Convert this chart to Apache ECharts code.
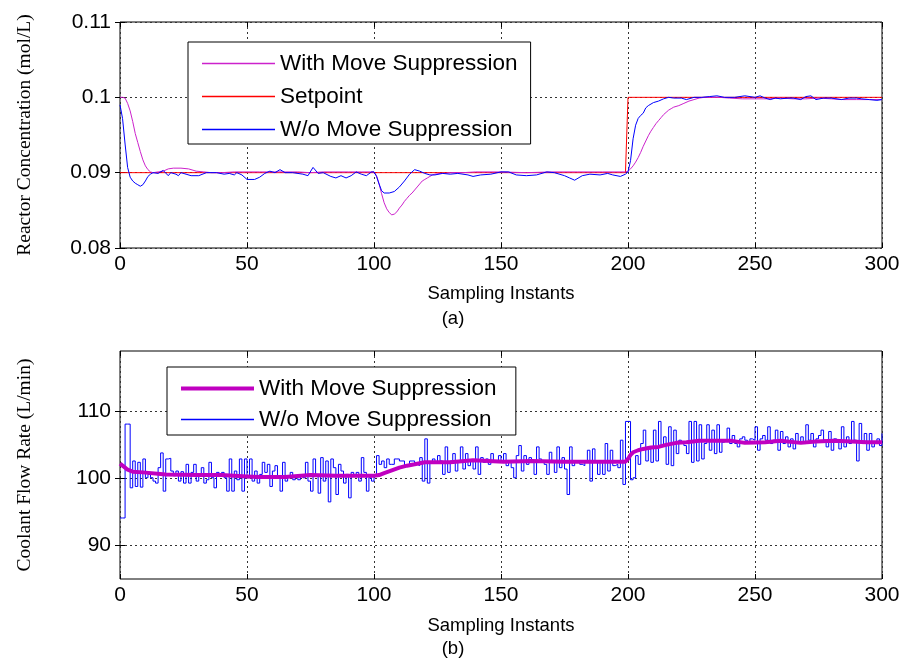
<!DOCTYPE html>
<html><head><meta charset="utf-8">
<script src="https://cdn.jsdelivr.net/npm/echarts@6/dist/echarts.min.js"></script>
<style>html,body{margin:0;padding:0;background:#fff}#c{width:906px;height:660px}</style>
</head><body><div id="c"></div>
<script>
// ---------- data ----------
const xTicks = [0, 50, 100, 150, 200, 250, 300];
const botYTicks = [90, 100, 110];

// (a) setpoint
const spT = [0, 199, 200, 300];
const spV = [0.09, 0.09, 0.1, 0.1];

// (a) with move suppression
const maT = [0,1,2,3,4,5,6,7,8,9,10,11,12,13,15,17,19,21,24,27,30,33,36,40,45,50,55,60,65,70,75,80,85,90,95,100,101,102,103,104,105,106,107,108,109,110,111,112,113,114,115,116,117,118,119,120,121,122,123,124,126,128,130,135,140,150,160,170,180,190,199,200,201,202,203,204,205,206,207,208,209,210,211,212,213,214,215,216,217,218,220,222,224,226,228,230,233,236,240,245,250,255,260,265,270,275,280,285,290,295,300];
const maV = [0.1,0.1,0.0999,0.0992,0.0982,0.0968,0.0952,0.094,0.0928,0.0917,0.0909,0.0904,0.0901,0.09,0.0901,0.0902,0.0905,0.0906,0.0906,0.0905,0.0902,0.0901,0.09,0.09,0.0901,0.0901,0.0901,0.0901,0.0901,0.0901,0.09,0.0901,0.0901,0.0901,0.0901,0.0901,0.0896,0.0885,0.0872,0.086,0.0852,0.0847,0.0844,0.0845,0.0848,0.0853,0.0857,0.0862,0.0866,0.087,0.0873,0.0877,0.0881,0.0885,0.0889,0.0891,0.0893,0.0895,0.0897,0.0898,0.0899,0.0899,0.09,0.09,0.0901,0.0901,0.09,0.0901,0.0901,0.0901,0.0901,0.0902,0.0905,0.0909,0.0914,0.092,0.0927,0.0935,0.0942,0.0949,0.0955,0.096,0.0965,0.0969,0.0973,0.0977,0.098,0.0983,0.0985,0.0987,0.0989,0.0992,0.0995,0.0997,0.0999,0.1,0.1,0.1,0.0999,0.0998,0.0998,0.0998,0.0999,0.0998,0.0998,0.0999,0.0998,0.0997,0.0997,0.0997,0.0997];

// (a) without move suppression
const baT = [0,1,2,3,4,5,6,7,8,9,10,11,12,13,15,17,19,20,22,23,24,26,28,31,34,38,41,43,45,46,48,50,53,55,57,59,61,63,65,68,72,74,76,78,80,83,85,87,89,91,93,95,97,99,100,101,102,103,104,106,108,110,112,114,116,118,120,122,124,127,130,133,137,139,142,146,150,153,156,160,164,168,171,175,177,179,182,185,189,192,194,197,199,200,201,202,203,204,205,206,207,208,210,212,214,216,218,221,223,226,229,232,235,238,242,246,250,252,254,256,258,260,263,265,268,270,272,274,277,280,284,287,290,292,295,298,300];
const baV = [0.099,0.0972,0.0938,0.0907,0.0894,0.0889,0.0886,0.0884,0.0882,0.0884,0.0889,0.0895,0.0898,0.09,0.0899,0.0903,0.0896,0.09,0.0898,0.0896,0.09,0.0898,0.0896,0.0896,0.09,0.09,0.0898,0.0899,0.0897,0.09,0.0897,0.0891,0.0891,0.0894,0.0899,0.0902,0.09,0.0904,0.09,0.09,0.0898,0.0896,0.0907,0.0899,0.09,0.0895,0.0893,0.0896,0.0893,0.0896,0.0901,0.0898,0.0896,0.0901,0.0901,0.0895,0.0885,0.0876,0.0873,0.0873,0.0875,0.0881,0.0889,0.0898,0.0904,0.0902,0.0899,0.0897,0.0897,0.0899,0.0898,0.0899,0.0897,0.0895,0.0897,0.0898,0.0901,0.0901,0.0897,0.0896,0.0897,0.0901,0.09,0.0896,0.0893,0.089,0.0896,0.0898,0.0897,0.0899,0.0897,0.0895,0.0898,0.0901,0.0916,0.0945,0.0963,0.0972,0.0976,0.0979,0.0986,0.0989,0.0993,0.0995,0.0998,0.1,0.0999,0.0999,0.0997,0.1,0.1,0.1001,0.1002,0.1,0.1,0.1002,0.1,0.1002,0.0999,0.0997,0.0999,0.0998,0.0999,0.0999,0.0997,0.1001,0.1002,0.0997,0.0999,0.0999,0.0997,0.0999,0.0999,0.0998,0.0997,0.0996,0.0997];

// (b) with move suppression
const mbT = [0,2,3,5,9,18,30,40,50,55,65,75,85,92,100,102,104,107,110,113,116,120,130,139,145,151,162,175,188,199,200,201,202,204,206,209,212,215,219,223,228,236,241,246,254,260,268,274,281,288,294,300];
const mbV = [102.2,101.6,101.3,101.0,100.9,100.6,100.5,100.5,100.3,100.2,100.2,100.5,100.4,100.4,100.4,100.5,100.8,101.2,101.6,101.9,102.1,102.4,102.4,102.7,102.6,102.5,102.6,102.5,102.5,102.5,102.9,103.5,103.9,104.2,104.4,104.6,104.7,105.0,105.3,105.4,105.6,105.6,105.6,105.3,105.4,105.6,105.3,105.5,105.6,105.5,105.4,105.4];

// (b) without move suppression, one value per sampling instant 0..300
const bbV = [94.1,94.1,108.1,108.1,
98.6,102.6,98.8,102.4,98.7,102.9,100.1,100.6,100.1,99.6,
99.3,101.6,103.8,98.1,102.9,103.0,101.1,100.4,101.1,99.6,
101.0,99.3,102.1,99.3,100.9,102.1,99.6,100.4,101.6,99.3,
99.8,102.4,100.1,98.6,100.9,100.4,100.9,100.1,98.1,102.9,
98.1,101.1,99.8,102.9,98.1,102.9,100.1,102.9,99.6,101.1,
99.3,100.6,102.4,100.9,102.1,98.8,101.1,101.9,100.4,98.1,
102.4,99.6,100.4,100.9,99.8,100.4,99.8,100.4,100.1,102.4,
99.6,98.1,102.9,100.4,97.8,103.1,99.6,102.6,96.5,102.9,
101.6,97.6,102.1,101.1,99.3,100.6,97.1,100.9,100.4,100.9,
99.6,103.1,100.9,98.1,100.1,99.6,100.4,103.4,102.1,102.6,
101.6,102.9,102.1,102.1,102.9,102.9,102.6,102.6,101.9,101.9,102.6,102.6,102.1,101.9,103.1,
99.6,105.9,99.3,102.4,102.9,102.4,103.4,102.6,100.6,104.7,
100.9,102.6,103.7,101.1,102.6,104.7,101.4,103.7,101.9,102.6,
101.4,104.7,100.6,103.1,102.4,102.9,102.1,103.7,102.4,102.4,
103.4,102.6,
103.7,101.9,102.6,101.6,100.1,103.4,104.9,101.1,103.4,102.1,
103.1,102.4,100.6,104.7,102.9,102.6,102.1,100.6,103.9,102.4,
100.9,104.7,101.6,103.1,101.4,97.6,104.7,101.9,102.4,102.6,
102.1,101.9,102.4,104.2,99.6,104.4,102.4,100.6,102.4,100.6,
105.2,101.1,104.2,101.9,102.1,101.6,105.7,99.1,108.5,108.5,
99.8,100.1,103.4,102.1,105.2,107.2,102.6,104.4,102.4,107.2,
102.6,108.5,104.9,106.2,102.1,107.7,101.9,107.2,103.7,105.7,
105.4,104.9,103.7,108.5,102.4,108.5,102.6,108.0,102.9,105.2,
108.0,104.2,107.2,103.7,108.0,103.9,105.4,105.7,107.5,105.2,
106.4,105.2,104.7,105.9,106.2,105.7,105.2,105.9,105.7,107.7,
104.2,105.9,106.4,105.7,107.7,105.2,105.7,107.2,104.2,107.0,
105.2,106.2,104.7,105.9,104.4,106.7,105.2,106.2,105.2,108.0,
105.7,106.7,104.7,105.9,106.4,107.2,105.7,104.7,107.0,104.2,
105.9,105.7,104.4,107.7,104.7,106.2,105.2,108.5,105.7,102.6,
108.2,105.2,106.7,104.2,106.7,104.7,105.4,105.9,104.9,106.7];
const bbT = bbV.map((v, i) => i);

// ---------- chart ----------
const SANS = 'Liberation Sans, Arial, Helvetica, sans-serif';
const SERIF = 'Liberation Serif, Times New Roman, serif';
const pair = (t, v) => t.map((x, i) => [x, v[i]]);
const dotted = {show: true, lineStyle: {color: '#333', type: [2, 3], width: 1}};
const tick = {show: true, inside: true, length: 5, lineStyle: {color: '#000'}};
const C_MAG = '#cc22cc', C_MAG2 = '#c000c0', C_RED = '#ff0000', C_BLUE = '#0000ff';
const thinIcon = 'path://M0,0H70V1.2H0Z';
const thickIcon = 'path://M0,0H70V4H0Z';
const legItem = (name, icon, color) => ({name, icon, itemStyle: {color, borderWidth: 0, borderColor: color}});

function xAxis(gi, pos, gap) {
  const main = pos === 'bottom';
  return {
    type: 'value', gridIndex: gi, position: pos, min: 0, max: 300, interval: 50,
    axisLine: {show: false}, axisTick: tick,
    axisLabel: {show: main, color: '#000', fontSize: 21, fontFamily: SANS, margin: 6},
    splitLine: main ? dotted : {show: false},
    name: main ? 'Sampling Instants' : '', nameLocation: 'middle', nameGap: gap,
    nameTextStyle: {color: '#000', fontSize: 18.5, fontFamily: SANS}
  };
}

const option = {
  animation: false,
  backgroundColor: '#fff',
  grid: [
    {left: 120, right: 24, top: 22, height: 226, show: true, borderColor: '#000', borderWidth: 1},
    {left: 120, right: 24, top: 351, height: 228, show: true, borderColor: '#000', borderWidth: 1}
  ],
  xAxis: [xAxis(0, 'bottom', 36), xAxis(0, 'top', 0), xAxis(1, 'bottom', 37), xAxis(1, 'top', 0)],
  yAxis: [
    {type: 'value', gridIndex: 0, position: 'left', min: 0.08, max: 0.11, interval: 0.01,
     axisLine: {show: false}, axisTick: tick,
     axisLabel: {color: '#000', fontSize: 21, fontFamily: SANS, margin: 9},
     splitLine: dotted,
     name: 'Reactor Concentration (mol/L)', nameLocation: 'middle', nameGap: 85,
     nameTextStyle: {color: '#000', fontSize: 19.5, fontFamily: SERIF}},
    {type: 'value', gridIndex: 0, position: 'right', min: 0.08, max: 0.11, interval: 0.01,
     axisLine: {show: false}, axisTick: tick, axisLabel: {show: false}, splitLine: {show: false}},
    {type: 'value', gridIndex: 1, position: 'left', min: 85, max: 119,
     axisLine: {show: false}, axisTick: Object.assign({}, tick, {customValues: botYTicks}),
     axisLabel: {color: '#000', fontSize: 21, fontFamily: SANS, margin: 9, customValues: botYTicks},
     splitLine: dotted,
     name: 'Coolant Flow Rate (L/min)', nameLocation: 'middle', nameGap: 85,
     nameTextStyle: {color: '#000', fontSize: 19.5, fontFamily: SERIF}},
    {type: 'value', gridIndex: 1, position: 'right', min: 85, max: 119,
     axisLine: {show: false}, axisTick: Object.assign({}, tick, {customValues: botYTicks}),
     axisLabel: {show: false}, splitLine: {show: false}}
  ],
  legend: [
    {orient: 'vertical', left: 188, top: 42, padding: [10, 13, 3, 14], itemGap: 10,
     itemWidth: 73, itemHeight: 14, backgroundColor: '#fff', borderColor: '#000', borderWidth: 1, z: 20,
     itemStyle: {borderWidth: 0},
     data: [legItem('With Move Suppression', thinIcon, C_MAG),
            legItem('Setpoint', thinIcon, C_RED),
            legItem('W/o Move Suppression', thinIcon, C_BLUE)],
     textStyle: {color: '#000', fontSize: 22.5, fontFamily: SANS}},
    {orient: 'vertical', left: 167, top: 367, padding: [10, 13, 4, 14], itemGap: 8,
     itemWidth: 73, itemHeight: 14, backgroundColor: '#fff', borderColor: '#000', borderWidth: 1, z: 20,
     itemStyle: {borderWidth: 0},
     data: [legItem('With Move Suppression ', thickIcon, C_MAG2),
            legItem('W/o Move Suppression ', thinIcon, C_BLUE)],
     textStyle: {color: '#000', fontSize: 22.5, fontFamily: SANS}}
  ],
  graphic: [
    {type: 'text', left: 'center', top: 309, style: {text: '(a)', fill: '#000', font: '18.5px ' + SANS}},
    {type: 'text', left: 'center', top: 639, style: {text: '(b)', fill: '#000', font: '18.5px ' + SANS}}
  ],
  series: [
    {name: 'Setpoint', type: 'line', xAxisIndex: 0, yAxisIndex: 0, data: pair(spT, spV),
     symbol: 'none', lineStyle: {color: C_RED, width: 1}, itemStyle: {color: C_RED}, z: 3},
    {name: 'With Move Suppression', type: 'line', xAxisIndex: 0, yAxisIndex: 0, data: pair(maT, maV),
     symbol: 'none', lineStyle: {color: C_MAG, width: 1}, itemStyle: {color: C_MAG}, z: 4},
    {name: 'W/o Move Suppression', type: 'line', xAxisIndex: 0, yAxisIndex: 0, data: pair(baT, baV),
     symbol: 'none', lineStyle: {color: C_BLUE, width: 1}, itemStyle: {color: C_BLUE}, z: 5},
    {name: 'W/o Move Suppression ', type: 'line', xAxisIndex: 2, yAxisIndex: 2, data: pair(bbT, bbV),
     step: 'end', symbol: 'none', lineStyle: {color: C_BLUE, width: 1}, itemStyle: {color: C_BLUE}, z: 3},
    {name: 'With Move Suppression ', type: 'line', xAxisIndex: 2, yAxisIndex: 2, data: pair(mbT, mbV),
     symbol: 'none', lineStyle: {color: C_MAG2, width: 4}, itemStyle: {color: C_MAG2}, z: 4}
  ]
};
const chart = echarts.init(document.getElementById('c'));
chart.setOption(option);
</script></body></html>
